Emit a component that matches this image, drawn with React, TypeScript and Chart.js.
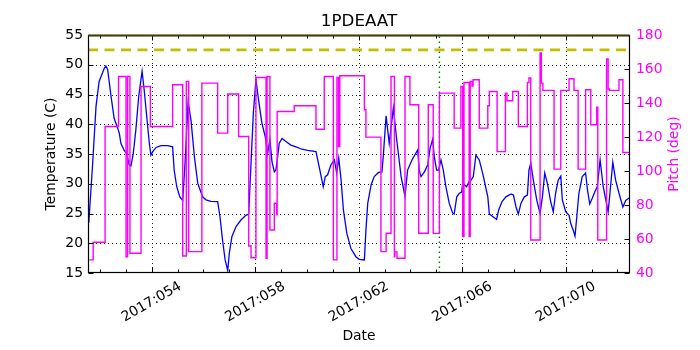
import React, { useEffect, useRef } from 'react';
import { Chart, registerables } from 'chart.js';

Chart.register(...registerables);

const FONT = "'DejaVu Sans', 'Liberation Sans', sans-serif";
const CHART_TITLE = '1PDEAAT';
const X_TITLE = 'Date';
const Y_TITLE = 'Temperature (C)';
const Y2_TITLE = 'Pitch (deg)';

const xMin = 51.54;
const xMax = 72.485;
const majorDays = [54, 58, 62, 66, 70];
const majorLabels = ['2017:054', '2017:058', '2017:062', '2017:066', '2017:070'];
const minorDays = [52, 53, 55, 56, 57, 59, 60, 61, 63, 64, 65, 67, 68, 69, 71, 72];

const tempMin = 15;
const tempMax = 55;
const tempStep = 5;
const pitchMin = 40;
const pitchMax = 180;
const pitchStep = 20;

const tempLimit = 52.5;
const eventDay = 65.12;

const tempDays = [
  51.57, 51.72, 51.85, 51.97, 52.17, 52.23, 52.30, 52.43, 52.55, 52.69,
  52.75, 52.81, 52.94, 53.03, 53.13, 53.20, 53.29, 53.39, 53.50, 53.63,
  53.71, 53.81, 53.91, 53.97, 54.04, 54.17, 54.36, 54.62, 54.81, 54.87,
  54.97, 55.09, 55.20, 55.29, 55.41, 55.52, 55.65, 55.78, 55.87, 55.97,
  56.10, 56.29, 56.55, 56.64, 56.74, 56.84, 56.94, 57.00, 57.10, 57.26,
  57.45, 57.64, 57.75, 57.84, 57.93, 58.03, 58.14, 58.26, 58.39, 58.48,
  58.57, 58.65, 58.74, 58.80, 58.87, 58.93, 59.04, 59.19, 59.38, 59.58,
  59.81, 60.03, 60.35, 60.50, 60.63, 60.71, 60.80, 60.93, 61.06, 61.15,
  61.23, 61.32, 61.41, 61.54, 61.70, 61.90, 62.02, 62.22, 62.28, 62.35,
  62.48, 62.60, 62.77, 62.90, 62.95, 63.06, 63.18, 63.34, 63.47, 63.64,
  63.79, 63.89, 64.06, 64.28, 64.34, 64.41, 64.54, 64.67, 64.76, 64.86,
  64.92, 65.01, 65.09, 65.18, 65.27, 65.37, 65.50, 65.63, 65.69, 65.79,
  65.89, 65.98, 66.02, 66.17, 66.27, 66.34, 66.43, 66.53, 66.66, 66.79,
  66.92, 66.99, 67.05, 67.18, 67.33, 67.41, 67.54, 67.69, 67.89, 67.98,
  68.08, 68.17, 68.27, 68.40, 68.52, 68.58, 68.65, 68.75, 68.88, 69.01,
  69.10, 69.19, 69.29, 69.42, 69.52, 69.61, 69.71, 69.81, 69.87, 70.00,
  70.13, 70.19, 70.29, 70.36, 70.43, 70.51, 70.64, 70.77, 70.84, 70.93,
  71.03, 71.13, 71.22, 71.33, 71.45, 71.55, 71.64, 71.71, 71.82, 71.93,
  72.06, 72.21, 72.32, 72.45,
];

const tempValues = [
  23.4, 33.4, 43, 47.2, 49.4, 49.8, 49.2, 44.7, 41, 39.3,
  38.5, 36.8, 35.6, 35.1, 33.2, 33, 35.1, 39.1, 44.7, 48.9,
  45.8, 41.3, 36.8, 34.8, 35.4, 36.1, 36.4, 36.4, 36.2, 32.3,
  29.5, 27.8, 27.2, 33.5, 43.8, 40.7, 34.6, 30.1, 29, 27.8,
  27.3, 27.05, 27, 24.5, 20.5, 17.2, 15.4, 18.3, 21.1, 22.8,
  23.9, 24.7, 24.9, 33.5, 41.9, 47.5, 43.8, 40.2, 37.9, 35.1,
  37.4, 33.7, 32, 32.3, 34.6, 36.8, 37.6, 37.1, 36.5, 36.2,
  35.8, 35.6, 35.4, 32.3, 29.5, 31.2, 31.5, 33.2, 34, 31.8,
  34.3, 30.6, 25.6, 21.7, 19.1, 17.7, 17.3, 17.2, 22.2, 26.7,
  29.8, 31.2, 31.9, 32, 34.6, 41.4, 36.8, 42.7, 37.4, 31.2,
  27.9, 32.3, 34, 35.7, 32.3, 31.2, 32, 33.2, 36, 37.5,
  34.6, 32.3, 32.3, 34, 32.3, 29.5, 26.7, 25.1, 24.9, 27.8,
  28.4, 28.6, 30.1, 29.5, 30.4, 30.6, 31.2, 34.8, 34, 31.8,
  29.2, 27.8, 24.9, 24.5, 24, 25.6, 27, 27.8, 28.3, 28.1,
  26.1, 24.9, 26.7, 27.8, 28.1, 32.3, 33.5, 30.6, 27.3, 25,
  27.8, 31.8, 30.1, 27, 25.3, 28.4, 30.6, 31.3, 27.3, 25.3,
  24.7, 23.4, 22.2, 21.2, 24.5, 28.4, 31.2, 31.8, 29, 26.6,
  27.6, 28.7, 29.5, 34, 29.5, 27.3, 25.3, 28.4, 33.6, 30.6,
  28.4, 26.1, 27.2, 27.6,
];

// pitch is a step series: each value holds until the next day entry
const pitchDays = [
  51.59, 51.74, 52.20, 52.72, 53.01, 53.07, 53.16, 53.59, 53.95, 54.81,
  55.20, 55.34, 55.43, 55.94, 56.55, 56.94, 57.36, 57.75, 57.84, 58.03,
  58.42, 58.46, 58.57, 58.74, 58.83, 58.85, 59.51, 60.35, 60.67, 61.02,
  61.16, 61.22, 61.27, 62.22, 62.28, 62.86, 63.06, 63.25, 63.38, 63.40,
  63.48, 63.79, 63.98, 64.32, 64.69, 64.88, 65.12, 65.69, 65.95, 66.02,
  66.07, 66.27, 66.31, 66.38, 66.42, 66.66, 66.99, 67.05, 67.35, 67.67,
  67.73, 67.95, 68.17, 68.52, 68.58, 68.65, 69.01, 69.06, 69.12, 69.55,
  69.81, 70.13, 70.32, 70.48, 70.77, 70.97, 71.20, 71.24, 71.58, 71.64,
  71.69, 72.06, 72.21, 72.48,
];

const pitchValues = [
  47.7, 58.1, 126.2, 155.6, 49.6, 155.6, 51.6, 149.7, 126.2, 150.7,
  50, 152.7, 52.6, 151.7, 122.3, 145.3, 120.3, 55.9, 49, 155,
  48.7, 155.6, 65.3, 81, 74.2, 135, 138.4, 124.6, 155.6, 47.7,
  155, 114.4, 156, 136, 119.9, 52.6, 63.4, 155.6, 49.6, 52.4,
  48.7, 155.6, 139, 63.4, 139, 63.3, 145.8, 125.2, 149.7, 61.4,
  152.1, 61.4, 152.7, 150, 153.7, 125.2, 138.4, 146.8, 111.4, 145.8,
  141.3, 146.8, 126.2, 152.1, 154.7, 59.4, 169.4, 151.7, 147.4, 101.1,
  147.4, 154.3, 147.4, 101.1, 147.8, 127.2, 137.6, 59.4, 165.9, 148.2,
  147.4, 153.7, 110.9, 110.9,
];

const decorPlugin = {
  id: 'decor',
  beforeDatasetsDraw(chart: any) {
    const { ctx, chartArea: a, scales } = chart;
    ctx.save();
    ctx.strokeStyle = 'rgba(0,0,0,0.85)';
    ctx.lineWidth = 1;
    ctx.setLineDash([1, 3]);
    ctx.beginPath();
    majorDays.forEach((d) => {
      const x = Math.round(scales.x.getPixelForValue(d)) + 0.5;
      ctx.moveTo(x, a.top);
      ctx.lineTo(x, a.bottom);
    });
    scales.y.ticks.forEach((t: any) => {
      if (t.value > tempMin && t.value < tempMax) {
        const y = Math.round(scales.y.getPixelForValue(t.value)) + 0.5;
        ctx.moveTo(a.left, y);
        ctx.lineTo(a.right, y);
      }
    });
    ctx.stroke();
    ctx.restore();
  },
  afterDatasetsDraw(chart: any) {
    const { ctx, chartArea: a, scales } = chart;
    ctx.save();
    ctx.setLineDash([]);
    ctx.strokeStyle = '#000';
    ctx.lineWidth = 1;
    const L = Math.round(a.left) + 0.5;
    const R = Math.round(a.right) - 0.5;
    const T = Math.round(a.top) + 0.5;
    const B = Math.round(a.bottom) - 0.5;
    ctx.beginPath();
    // ticks (inward)
    majorDays.forEach((d) => {
      const x = Math.round(scales.x.getPixelForValue(d)) + 0.5;
      ctx.moveTo(x, B); ctx.lineTo(x, B - 5);
      ctx.moveTo(x, T); ctx.lineTo(x, T + 5);
    });
    minorDays.forEach((d) => {
      const x = Math.round(scales.x.getPixelForValue(d)) + 0.5;
      ctx.moveTo(x, B); ctx.lineTo(x, B - 3);
      ctx.moveTo(x, T); ctx.lineTo(x, T + 3);
    });
    scales.y.ticks.forEach((t: any) => {
      const y = Math.round(scales.y.getPixelForValue(t.value)) + 0.5;
      ctx.moveTo(L, y); ctx.lineTo(L + 5, y);
    });
    scales.y2.ticks.forEach((t: any) => {
      const y = Math.round(scales.y2.getPixelForValue(t.value)) + 0.5;
      ctx.moveTo(R, y); ctx.lineTo(R - 5, y);
    });
    ctx.stroke();
    // frame
    ctx.lineWidth = 1.2;
    ctx.strokeRect(L, T, R - L, B - T);
    ctx.strokeStyle = '#404000';
    ctx.lineWidth = 2;
    ctx.beginPath();
    ctx.moveTo(L, T);
    ctx.lineTo(R, T);
    ctx.stroke();
    // x tick labels, rotated and centred on the tick
    ctx.fillStyle = '#000';
    ctx.font = `13.9px ${FONT}`;
    ctx.textAlign = 'center';
    ctx.textBaseline = 'middle';
    majorDays.forEach((d, i) => {
      const x = scales.x.getPixelForValue(d);
      ctx.save();
      ctx.translate(x, a.bottom + 29);
      ctx.rotate(-Math.PI / 6);
      ctx.fillText(majorLabels[i], 0, 0);
      ctx.restore();
    });
    // right axis title, reading upwards
    ctx.save();
    ctx.fillStyle = '#ff00ff';
    ctx.translate(674, (a.top + a.bottom) / 2);
    ctx.rotate(-Math.PI / 2);
    ctx.fillText(Y2_TITLE, 0, 0);
    ctx.restore();
    // title
    ctx.font = `16.7px ${FONT}`;
    ctx.fillText(CHART_TITLE, (a.left + a.right) / 2, 22);
    ctx.restore();
  },
};

export default function App() {
  const ref = useRef<HTMLCanvasElement | null>(null);
  useEffect(() => {
    if (!ref.current) return;
    Chart.defaults.font.family = FONT;
    Chart.defaults.font.size = 13.9;
    const tempData = tempDays.map((d, i) => ({ x: d, y: tempValues[i] }));
    const pitchData = pitchDays.map((d, i) => ({ x: d, y: pitchValues[i] }));
    const chart = new Chart(ref.current, {
      type: 'line',
      data: {
        datasets: [
          {
            label: 'Pitch',
            data: pitchData,
            yAxisID: 'y2',
            borderColor: '#ff00ff',
            borderWidth: 1.4,
            pointRadius: 0,
            stepped: 'before',
            fill: false,
            order: 0,
          } as any,
          {
            label: 'Temperature',
            data: tempData,
            yAxisID: 'y',
            borderColor: '#0000ff',
            borderWidth: 1.3,
            pointRadius: 0,
            tension: 0,
            fill: false,
            order: 1,
          },
          {
            label: 'Limit',
            data: [{ x: xMin, y: tempLimit }, { x: xMax, y: tempLimit }],
            yAxisID: 'y',
            borderColor: '#c0c000',
            borderWidth: 2.6,
            borderDash: [10, 6.5],
            pointRadius: 0,
            fill: false,
            order: 2,
          },
          {
            label: 'Event',
            data: [{ x: eventDay, y: tempMin }, { x: eventDay, y: tempMax }],
            yAxisID: 'y',
            borderColor: '#008000',
            borderWidth: 1.4,
            borderDash: [1.5, 3.5],
            pointRadius: 0,
            fill: false,
            order: 3,
          },
        ],
      },
      options: {
        animation: false,
        responsive: false,
        maintainAspectRatio: false,
        layout: { padding: { top: 35, left: 0, right: 0, bottom: 0 } },
        plugins: {
          legend: { display: false },
          title: { display: false },
          tooltip: { enabled: false },
        },
        scales: {
          x: {
            type: 'linear',
            position: 'bottom',
            min: xMin,
            max: xMax,
            grid: { display: false, drawTicks: false },
            border: { display: false },
            ticks: { display: false },
            title: {
              display: true,
              text: X_TITLE,
              color: '#000',
              font: { family: FONT, size: 13.9 },
              padding: { top: 0, bottom: 5.7 },
            },
            afterFit: (s: any) => { s.height = 77; },
          },
          y: {
            type: 'linear',
            position: 'left',
            min: tempMin,
            max: tempMax,
            grid: { display: false, drawTicks: false },
            border: { display: false },
            ticks: { stepSize: tempStep, padding: 5, color: '#000', font: { family: FONT, size: 13.9 } },
            title: {
              display: true,
              text: Y_TITLE,
              color: '#000',
              font: { family: FONT, size: 13.9 },
              padding: { top: 42.7, bottom: 0 },
            },
            afterFit: (s: any) => { s.width = 88; },
          },
          y2: {
            type: 'linear',
            position: 'right',
            min: pitchMin,
            max: pitchMax,
            grid: { display: false, drawTicks: false },
            border: { display: false },
            ticks: { stepSize: pitchStep, padding: 6, color: '#ff00ff', font: { family: FONT, size: 13.9 } },
            title: { display: false },
            afterFit: (s: any) => { s.width = 70; },
          },
        } as any,
      },
      plugins: [decorPlugin],
    });
    return () => chart.destroy();
  }, []);
  return (
    <div style={{ position: 'fixed', left: 0, top: 0, width: 700, height: 350, background: '#fff' }}>
      <canvas ref={ref} width={700} height={350} style={{ display: 'block', width: 700, height: 350 }} />
    </div>
  );
}
